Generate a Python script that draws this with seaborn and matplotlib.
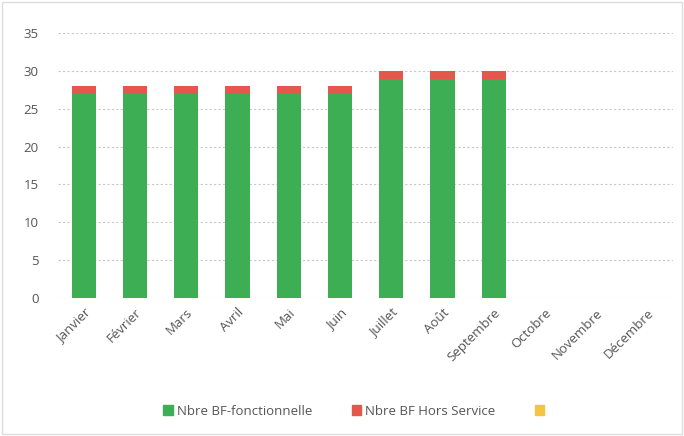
import pandas as pd
import matplotlib.pyplot as plt
import seaborn as sns
from matplotlib.patches import Patch

# data
mois = ["Janvier", "Février", "Mars", "Avril", "Mai", "Juin", "Juillet",
        "Août", "Septembre", "Octobre", "Novembre", "Décembre"]
bf_fonctionnelle = [27, 27, 27, 27, 27, 27, 29, 29, 29, 0, 0, 0]
bf_hors_service = [1, 1, 1, 1, 1, 1, 1, 1, 1, 0, 0, 0]
bf_autre = [0] * 12

df = pd.DataFrame({"Mois": mois,
                   "fonctionnelle": bf_fonctionnelle,
                   "hors_service": bf_hors_service,
                   "autre": bf_autre})
df["total"] = df["fonctionnelle"] + df["hors_service"]
df["total3"] = df["total"] + df["autre"]

green = "#3dae54"
red = "#e5574c"
yellow = "#f4c542"

sns.set_theme(style="white")
plt.rcParams["font.family"] = ["Open Sans", "DejaVu Sans"]

fig = plt.figure(figsize=(6.84, 4.36), dpi=100)
ax = fig.add_axes([0.085, 0.317, 0.899, 0.607])

# stacked bars: draw cumulative totals back to front
for col, c in [("total3", yellow), ("total", red), ("fonctionnelle", green)]:
    sns.barplot(data=df, x="Mois", y=col, color=c, width=0.47, ax=ax,
                saturation=1, linewidth=0, edgecolor="none")

ax.set_ylim(0, 35)
ax.set_yticks(range(0, 36, 5))
ax.yaxis.grid(True, color="#c8c8c8", linestyle=(0, (2, 2)), linewidth=0.8)
ax.set_axisbelow(True)
for s in ax.spines.values():
    s.set_visible(False)
ax.set_xlabel("")
ax.set_ylabel("")
ax.tick_params(axis="y", colors="#555555", labelsize=9.5, length=0, pad=14)
ax.tick_params(axis="x", colors="#555555", labelsize=9.5, length=0, pad=6)
plt.setp(ax.get_xticklabels(), rotation=45, ha="right", rotation_mode="anchor")

handles = [Patch(color=green), Patch(color=red), Patch(color=yellow)]
labels = ["Nbre BF-fonctionnelle", "Nbre BF Hors Service", ""]
fig.legend(handles, labels, loc="center", bbox_to_anchor=(0.52, 0.057), ncol=3,
           frameon=False, fontsize=9.5, handlelength=0.7, handleheight=0.7,
           handletextpad=0.3, columnspacing=3.0, labelcolor="#555555")

fig.patches.append(plt.Rectangle((0.003, 0.005), 0.994, 0.99, transform=fig.transFigure,
                                 fill=False, edgecolor="#dddddd", linewidth=1))

fig.savefig("out.png", dpi=100)
